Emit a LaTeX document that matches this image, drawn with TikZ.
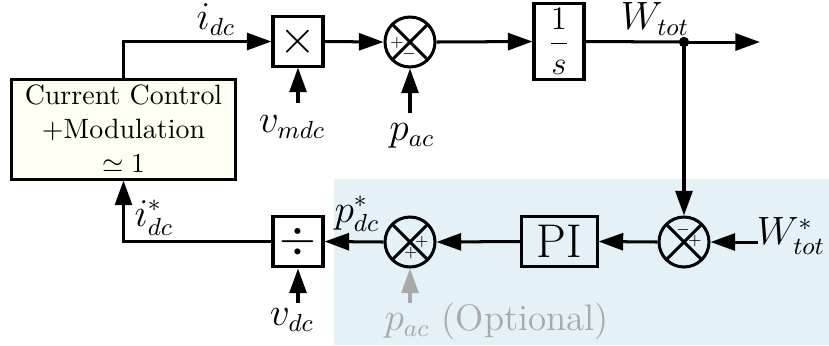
\documentclass[tikz,border=0pt]{standalone}
\usetikzlibrary{arrows.meta}
\definecolor{bgblue}{HTML}{E4F2F7}
\definecolor{cream}{HTML}{FFFFF3}
\definecolor{optgray}{HTML}{A8A8A8}
\begin{document}
\begin{tikzpicture}[x=0.365pt,y=-0.365pt,
  every node/.style={font=\fontsize{13.5}{16}\selectfont},
  blk/.style={draw,line width=1.1pt,inner sep=0pt},
  sumc/.style={draw,circle,line width=1.1pt,minimum size=18.25pt,inner sep=0pt,
    path picture={\draw[line width=1.1pt] (path picture bounding box.north west)--(path picture bounding box.south east)
      (path picture bounding box.north east)--(path picture bounding box.south west);}},
  sgn/.style={font=\tiny,inner sep=0pt},
  conn/.style={line width=1.1pt,-{Triangle[length=9pt,width=6.2pt]}},
  line/.style={line width=1.1pt}]
\useasboundingbox (0,0) rectangle (829,345);
\fill[bgblue] (334,179) rectangle (829,345);
% blocks
\node[blk,fill=cream,minimum width=82.1pt,minimum height=36.5pt,align=center,font=\fontsize{10.2}{12.4}\selectfont]
  (cc) at (123.5,129) {Current Control\\+Modulation\\$\simeq 1$};
\node[blk,minimum width=18.25pt,minimum height=17.9pt,font=\LARGE] (mult) at (298,41.5) {$\times$};
\node[sumc] (s1) at (410,42) {};
\node[sgn] at (397,43) {$+$};
\node[sgn] at (409,54) {$-$};
\node[blk,minimum width=18.25pt,minimum height=27.4pt,font=\fontsize{12.8}{15}\selectfont] (int) at (559,41.5) {$\displaystyle\frac{1}{s}$};
\node[sumc] (s2) at (684,242) {};
\node[sgn] at (683,230) {$-$};
\node[sgn] at (695,241) {$+$};
\node[blk,minimum width=27.4pt,minimum height=18.6pt,font=\LARGE] (pi) at (559.5,241.5) {PI};
\node[sumc] (s3) at (410,242) {};
\node[sgn] at (422,242) {$+$};
\node[sgn] at (411,253) {$+$};
\node[blk,minimum width=18.25pt,minimum height=18.6pt,font=\LARGE] (div) at (298,241.5) {$\div$};
% labels
\node (lidc) at (216,20) {$i_{dc}$};
\node (lvm) at (292,127) {$v_{mdc}$};
\node (lpac) at (412,136) {$p_{ac}$};
\node (lw) at (655,19) {$W_{tot}$};
\node (lwr) at (791,236) {$W^*_{tot}$};
\node (lpdc) at (357,214) {$p^*_{dc}$};
\node (lidcs) at (154,218) {$i^*_{dc}$};
\node (lvdc) at (292,320) {$v_{dc}$};
\node[text=optgray,anchor=west,inner sep=0pt] (lopt) at (384,321) {$p_{ac}$ (Optional)};
% coordinates
\coordinate (vmc) at (298,103);
\coordinate (pac) at (410,113);
\coordinate (dot) at (684,42);
\coordinate (wend) at (760,42);
\coordinate (wref) at (758,242);
\coordinate (opt) at (410,303);
\coordinate (vdc) at (298,303);
% connectors
\draw[conn] (cc.north) |- (mult.west);
\draw[conn] (vmc) -- (mult.south);
\draw[conn] (mult.east) -- (s1.west);
\draw[conn] (pac) -- (s1.south);
\draw[conn] (s1.east) -- (int.west);
\draw[line] (int.east) -- (dot);
\draw[conn] (dot) -- (wend);
\fill (dot) circle (1.9pt);
\draw[conn] (dot) -- (s2.north);
\draw[conn] (wref) -- (s2.east);
\draw[conn] (s2.west) -- (pi.east);
\draw[conn] (pi.west) -- (s3.east);
\draw[conn,optgray] (opt) -- (s3.south);
\draw[conn] (s3.west) -- (div.east);
\draw[conn] (vdc) -- (div.south);
\draw[conn] (div.west) -| (cc.south);
\end{tikzpicture}
\end{document}
